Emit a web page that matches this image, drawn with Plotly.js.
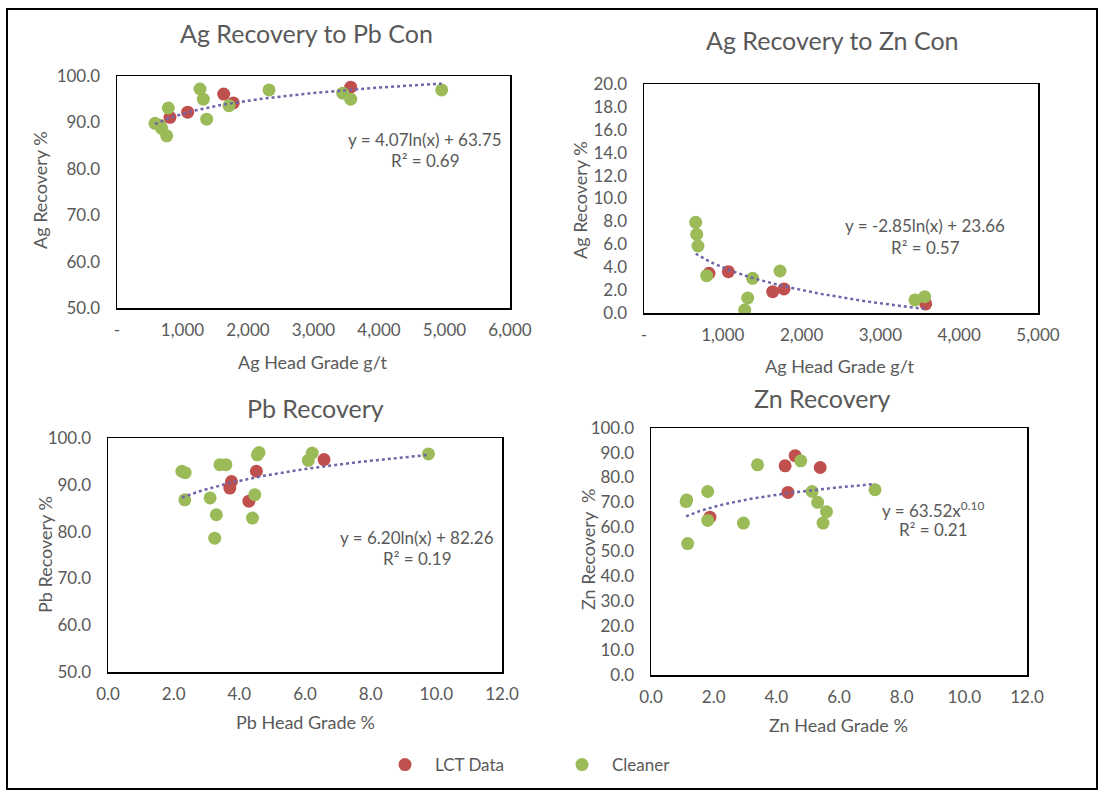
<!DOCTYPE html>
<html>
<head>
<meta charset="utf-8">
<script src="https://cdn.plot.ly/plotly-3.0.1.min.js"></script>
<style>html,body{margin:0;padding:0;background:#fff;}#chart{width:1105px;height:797px;}</style>
</head>
<body>
<div id="chart"></div>
<script>
// ---------- data ----------
const seriesNames = ['LCT Data', 'Cleaner'];

// Ag recovery to Pb con
const agPbLctX = [809, 1079, 1629, 1776, 3568];
const agPbLctY = [91.1, 92.2, 96.1, 94.2, 97.6];
const agPbClnX = [580, 656, 682, 759, 783, 1267, 1318, 1369, 1710, 2321, 3446, 3568, 4957];
const agPbClnY = [89.8, 89.4, 88.7, 87.1, 93.1, 97.2, 95.0, 90.7, 93.6, 97.0, 96.3, 95.0, 97.0];

// Ag recovery to Zn con
const agZnLctX = [825, 1070, 1633, 1777, 3575];
const agZnLctY = [3.47, 3.61, 1.86, 2.10, 0.79];
const agZnClnX = [656, 669, 685, 795, 1278, 1316, 1379, 1726, 3439, 3562];
const agZnClnY = [7.92, 6.87, 5.85, 3.26, 0.26, 1.31, 3.03, 3.67, 1.14, 1.43];

// Pb recovery
const pbLctX = [3.71, 3.76, 4.29, 4.52, 6.58];
const pbLctY = [89.3, 90.7, 86.5, 92.9, 95.4];
const pbClnX = [2.25, 2.35, 2.34, 3.11, 3.25, 3.30, 3.41, 3.59, 4.40, 4.47, 4.55, 4.60, 6.10, 6.22, 9.76];
const pbClnY = [92.9, 92.6, 86.8, 87.2, 78.6, 83.6, 94.3, 94.3, 82.9, 87.9, 96.4, 96.9, 95.2, 96.8, 96.6];

// Zn recovery
const znLctX = [1.88, 4.28, 4.37, 4.60, 5.40];
const znLctY = [63.9, 84.7, 73.9, 88.8, 84.0];
const znClnX = [1.12, 1.14, 1.17, 1.81, 1.81, 2.95, 3.40, 4.78, 5.14, 5.32, 5.49, 5.60, 7.15];
const znClnY = [70.2, 70.9, 53.2, 74.3, 62.6, 61.5, 85.1, 86.7, 74.3, 69.9, 61.5, 66.1, 75.0];

// trendline coefficients as printed on the chart
const agPbTrend = {type: 'log', a: 4.07, b: 63.75, r2: 0.69};
const agZnTrend = {type: 'log', a: -2.85, b: 23.66, r2: 0.57};
const pbTrend   = {type: 'log', a: 6.20, b: 82.26, r2: 0.19};
const znTrend   = {type: 'pow', a: 63.52, b: 0.10, r2: 0.21};

// tick labels
const agPbXTickVals = [0, 1000, 2000, 3000, 4000, 5000, 6000];
const agPbXTickText = ['-', '1,000', '2,000', '3,000', '4,000', '5,000', '6,000'];
const agZnXTickVals = [0, 1000, 2000, 3000, 4000, 5000];
const agZnXTickText = ['-', '1,000', '2,000', '3,000', '4,000', '5,000'];

const chartTitles = ['Ag Recovery to Pb Con', 'Ag Recovery to Zn Con', 'Pb Recovery', 'Zn Recovery'];
const xTitles = ['Ag Head Grade g/t', 'Ag Head Grade g/t', 'Pb Head Grade %', 'Zn Head Grade %'];
const yTitles = ['Ag Recovery %', 'Ag Recovery %', 'Pb Recovery %', 'Zn Recovery  %'];

// ---------- styling ----------
const W = 1105, H = 797;
const FONT = 'Lato, "Open Sans", sans-serif';
const GREY = '#595959';
const RED = '#C0504D';
const GREEN = '#9BBB59';
const TREND = '#7264A8';
const px = v => v / W;
const py = v => 1 - v / H;

function trendCurve(t, xs) {
  const lo = Math.min(...xs), hi = Math.max(...xs);
  const x = [], y = [];
  const n = 80;
  for (let i = 0; i <= n; i++) {
    const v = lo + (hi - lo) * i / n;
    x.push(v);
    y.push(t.type === 'log' ? t.a * Math.log(v) + t.b : t.a * Math.pow(v, t.b));
  }
  return {x, y};
}

const panels = [
  {lx: agPbLctX, ly: agPbLctY, cx: agPbClnX, cy: agPbClnY, trend: agPbTrend, xa: 'x', ya: 'y'},
  {lx: agZnLctX, ly: agZnLctY, cx: agZnClnX, cy: agZnClnY, trend: agZnTrend, xa: 'x2', ya: 'y2'},
  {lx: pbLctX, ly: pbLctY, cx: pbClnX, cy: pbClnY, trend: pbTrend, xa: 'x3', ya: 'y3'},
  {lx: znLctX, ly: znLctY, cx: znClnX, cy: znClnY, trend: znTrend, xa: 'x4', ya: 'y4'}
];

const traces = [];
panels.forEach((p, i) => {
  traces.push({x: p.lx, y: p.ly, xaxis: p.xa, yaxis: p.ya, type: 'scatter', mode: 'markers',
    name: seriesNames[0], legendgroup: 'lct', showlegend: i === 0,
    marker: {color: RED, size: 13}});
  traces.push({x: p.cx, y: p.cy, xaxis: p.xa, yaxis: p.ya, type: 'scatter', mode: 'markers',
    name: seriesNames[1], legendgroup: 'cln', showlegend: i === 0,
    marker: {color: GREEN, size: 13}});
});
panels.forEach(p => {
  const c = trendCurve(p.trend, p.lx.concat(p.cx));
  traces.push({x: c.x, y: c.y, xaxis: p.xa, yaxis: p.ya, type: 'scatter', mode: 'lines',
    showlegend: false, hoverinfo: 'skip',
    line: {color: TREND, width: 2.5, dash: 'dot'}});
});

const TICK = 17;
const baseAxis = {
  showline: true, mirror: true, linecolor: '#000', linewidth: 1.5,
  showgrid: false, zeroline: false, ticks: '', fixedrange: true,
  tickfont: {family: FONT, size: TICK, color: GREY}
};
const yAxis = (dom, range, dtick) => Object.assign({}, baseAxis, {
  domain: dom, range: range, dtick: dtick, tick0: 0, tickformat: '.1f', ticklabelstandoff: 12
});

const layout = {
  width: W, height: H,
  margin: {l: 0, r: 0, t: 0, b: 0},
  paper_bgcolor: '#fff', plot_bgcolor: '#fff',
  font: {family: FONT, color: GREY},
  xaxis:  Object.assign({}, baseAxis, {domain: [px(117), px(510)], range: [0, 6000], tickvals: agPbXTickVals, ticktext: agPbXTickText, anchor: 'y', ticklabelstandoff: 6}),
  yaxis:  Object.assign(yAxis([py(308), py(76)], [50, 100], 10), {anchor: 'x'}),
  xaxis2: Object.assign({}, baseAxis, {domain: [px(644), px(1038)], range: [0, 5000], tickvals: agZnXTickVals, ticktext: agZnXTickText, anchor: 'y2', ticklabelstandoff: 6}),
  yaxis2: Object.assign(yAxis([py(313), py(84)], [0, 20], 2), {anchor: 'x2'}),
  xaxis3: Object.assign({}, baseAxis, {domain: [px(108), px(502)], range: [0, 12], dtick: 2, tick0: 0, tickformat: '.1f', anchor: 'y3', ticklabelstandoff: 6}),
  yaxis3: Object.assign(yAxis([py(672), py(438)], [50, 100], 10), {anchor: 'x3'}),
  xaxis4: Object.assign({}, baseAxis, {domain: [px(651), px(1027)], range: [0, 12], dtick: 2, tick0: 0, tickformat: '.1f', anchor: 'y4', ticklabelstandoff: 6}),
  yaxis4: Object.assign(yAxis([py(675), py(428)], [0, 100], 10), {anchor: 'x4'}),
  showlegend: true,
  legend: {orientation: 'h', x: px(375), y: py(747), xanchor: 'left', yanchor: 'top',
    entrywidth: 112, entrywidthmode: 'pixels', itemwidth: 50,
    font: {family: FONT, size: 17, color: GREY}, bgcolor: 'rgba(0,0,0,0)'},
  shapes: [
    {type: 'rect', xref: 'paper', yref: 'paper', x0: px(7), x1: px(1097), y0: py(789), y1: py(9),
      line: {color: '#000', width: 2}, fillcolor: 'rgba(0,0,0,0)', layer: 'below'}
  ],
  annotations: []
};

const ann = (text, x, y, size, extra) => Object.assign({
  text: text, x: px(x), y: py(y), xref: 'paper', yref: 'paper',
  xanchor: 'center', yanchor: 'middle', showarrow: false,
  font: {family: FONT, size: size, color: GREY}
}, extra || {});

const titlePos = [[306, 33], [832, 40], [315, 408], [822, 398]];
const xTitlePos = [[313, 362], [840, 366], [305, 722], [838, 725]];
const yTitlePos = [[40, 190], [580, 200], [45, 555], [588, 550]];
chartTitles.forEach((t, i) => layout.annotations.push(ann(t, titlePos[i][0], titlePos[i][1], 25)));
xTitles.forEach((t, i) => layout.annotations.push(ann(t, xTitlePos[i][0], xTitlePos[i][1], 18)));
yTitles.forEach((t, i) => layout.annotations.push(ann(t, yTitlePos[i][0], yTitlePos[i][1], 18, {textangle: -90})));

// trendline equations
const fmt = v => v.toFixed(2);
const eqText = t => t.type === 'log'
  ? 'y = ' + fmt(t.a) + 'ln(x) + ' + fmt(t.b)
  : 'y = ' + fmt(t.a) + 'x<sup>' + fmt(t.b) + '</sup>';
const eqPos = [[425, 139, 160], [925, 225, 247], [417, 537, 558], [933, 509, 529]];
[agPbTrend, agZnTrend, pbTrend, znTrend].forEach((t, i) => {
  layout.annotations.push(ann(eqText(t), eqPos[i][0], eqPos[i][1], 17));
  layout.annotations.push(ann('R² = ' + fmt(t.r2), eqPos[i][0], eqPos[i][2], 17));
});

Plotly.newPlot('chart', traces, layout, {displayModeBar: false, staticPlot: true});
</script>
</body>
</html>
